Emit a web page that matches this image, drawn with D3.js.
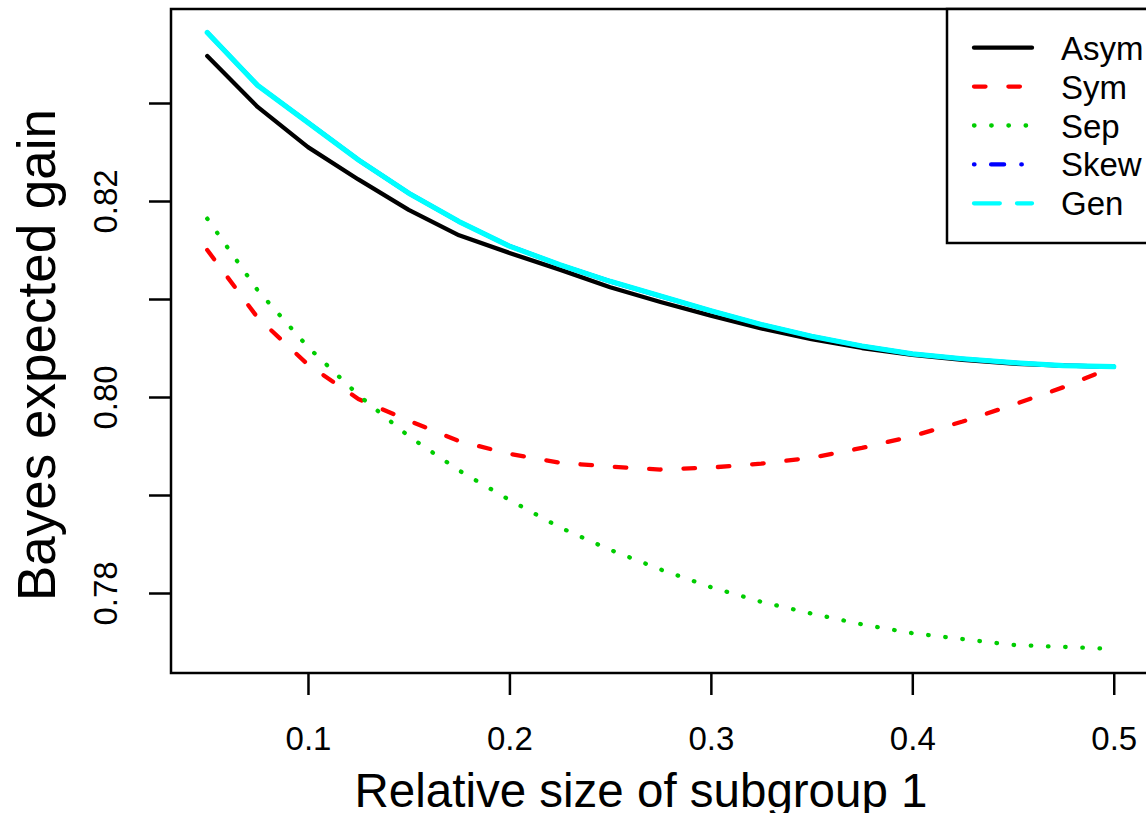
<!DOCTYPE html>
<html>
<head>
<meta charset="utf-8">
<script src="https://cdn.jsdelivr.net/npm/d3@7"></script>
<style>
  html, body { margin: 0; padding: 0; background: #fff; }
  svg { display: block; font-family: "Liberation Sans", Arial, sans-serif; }
</style>
</head>
<body>
<div id="chart"></div>
<script>
// relative size of subgroup 1 (x) and Bayes expected gain per model
const sizes = [0.05, 0.075, 0.1, 0.125, 0.15, 0.175, 0.2, 0.225, 0.25, 0.275,
               0.3, 0.325, 0.35, 0.375, 0.4, 0.425, 0.45, 0.475, 0.5];

const asym = [0.8348, 0.8296, 0.8255, 0.8222, 0.8191, 0.8165, 0.8147, 0.8130, 0.8112, 0.8097,
              0.8083, 0.8070, 0.8059, 0.8050, 0.8043, 0.8038, 0.8034, 0.8032, 0.8031];
const sym  = [0.8150, 0.8081, 0.8033, 0.7998, 0.7976, 0.7955, 0.7942, 0.7933, 0.7929, 0.7926,
              0.7928, 0.7932, 0.7938, 0.7948, 0.7960, 0.7975, 0.7992, 0.8010, 0.8031];
const sep  = [0.8182, 0.8109, 0.8051, 0.8002, 0.7960, 0.7925, 0.7895, 0.7867, 0.7844, 0.7824,
              0.7806, 0.7791, 0.7779, 0.7768, 0.7759, 0.7753, 0.7747, 0.7745, 0.7743];
const skew = [0.8372, 0.8318, 0.8280, 0.8242, 0.8208, 0.8179, 0.8154, 0.8135, 0.8118, 0.8103,
              0.8088, 0.8074, 0.8062, 0.8052, 0.8044, 0.8039, 0.8035, 0.8032, 0.8031];
const gen  = [0.8372, 0.8318, 0.8280, 0.8242, 0.8208, 0.8179, 0.8154, 0.8135, 0.8118, 0.8103,
              0.8088, 0.8074, 0.8062, 0.8052, 0.8044, 0.8039, 0.8035, 0.8032, 0.8031];

const xTicks = [0.1, 0.2, 0.3, 0.4, 0.5];
const yTicks = [0.78, 0.79, 0.80, 0.81, 0.82, 0.83];
const yLabelled = [0.78, 0.80, 0.82];   // R skips the in-between labels

// series: name, values, colour, dash pattern (R lty scaled by lwd, round caps)
// Gen covers Skew completely and shows as a continuous band in the plot
const serie = [
  { nome: 'Asym', valori: asym, colore: '#000000', dash: null, dashPlot: null, lw: 4.3 },
  { nome: 'Sym',  valori: sym,  colore: '#FF0000', dash: '11.5,22.9', dashPlot: '11.5,22.9', lw: 4.3 },
  { nome: 'Sep',  valori: sep,  colore: '#00CD00', dash: '0.5,16.7', dashPlot: '0.5,16.7', lw: 4.3 },
  { nome: 'Skew', valori: skew, colore: '#0000FF', dash: '0.5,16.6,13,17.2', dashPlot: null, lw: 4.3 },
  { nome: 'Gen',  valori: gen,  colore: '#00FFFF', dash: '25.8,17.2', dashPlot: null, lw: 5.2 }
];

const width = 1146, height = 813;
const box = { left: 171, right: 1150, top: 9, bottom: 673 };
const lwd = 4.3;

const svg = d3.select('#chart').append('svg')
    .attr('width', width)
    .attr('height', height);

const x = d3.scaleLinear().domain([0.032, 0.518]).range([box.left, box.right]);
const y = d3.scaleLinear().domain([0.771837, 0.839592]).range([box.bottom, box.top]);

// linee dei dati
const lineGen = d3.line()
    .x(d => x(d[0]))
    .y(d => y(d[1]));

serie.forEach(s => {
    svg.append('path')
        .datum(sizes.map((v, i) => [v, s.valori[i]]))
        .attr('d', lineGen)
        .attr('fill', 'none')
        .attr('stroke', s.colore)
        .attr('stroke-width', s.lw)
        .attr('stroke-linecap', 'round')
        .attr('stroke-linejoin', 'round')
        .attr('stroke-dasharray', s.dashPlot);
});

// cornice del grafico
svg.append('rect')
    .attr('x', box.left).attr('y', box.top)
    .attr('width', box.right - box.left)
    .attr('height', box.bottom - box.top)
    .attr('fill', 'none')
    .attr('stroke', '#000')
    .attr('stroke-width', 2.5);

// asse x
const xAxis = svg.append('g')
    .attr('transform', `translate(0,${box.bottom})`)
    .call(d3.axisBottom(x).tickValues(xTicks).tickSize(22).tickPadding(0).tickFormat(d3.format('.1f')));
xAxis.select('.domain').remove();
xAxis.selectAll('.tick line').attr('stroke', '#000').attr('stroke-width', 2.5);
xAxis.selectAll('.tick text')
    .attr('y', 77)
    .attr('dy', null)
    .attr('fill', '#000')
    .style('font-size', '33px');

// asse y
const yAxis = svg.append('g')
    .attr('transform', `translate(${box.left},0)`)
    .call(d3.axisLeft(y).tickValues(yTicks).tickSize(22)
        .tickFormat(d => yLabelled.some(v => Math.abs(v - d) < 1e-9) ? d3.format('.2f')(d) : ''));
yAxis.select('.domain').remove();
yAxis.selectAll('.tick line').attr('stroke', '#000').attr('stroke-width', 2.5);
yAxis.selectAll('.tick text')
    .attr('x', null)
    .attr('dy', null)
    .attr('text-anchor', 'middle')
    .attr('transform', 'translate(-54,0) rotate(-90)')
    .attr('fill', '#000')
    .style('font-size', '33px');

// titoli degli assi
svg.append('text')
    .attr('x', 641)
    .attr('y', 807)
    .attr('text-anchor', 'middle')
    .style('font-size', '47.5px')
    .text('Relative size of subgroup 1');

svg.append('text')
    .attr('transform', 'translate(55,355) rotate(-90)')
    .attr('text-anchor', 'middle')
    .style('font-size', '53px')
    .text('Bayes expected gain');

// legenda
const legenda = svg.append('g');
legenda.append('rect')
    .attr('x', 947).attr('y', box.top)
    .attr('width', 260).attr('height', 243 - box.top)
    .attr('fill', '#fff')
    .attr('stroke', '#000')
    .attr('stroke-width', 2.5);

serie.forEach((s, i) => {
    const cy = 47.7 + i * 38.9;
    legenda.append('line')
        .attr('x1', 974).attr('x2', 1032)
        .attr('y1', cy).attr('y2', cy)
        .attr('stroke', s.colore)
        .attr('stroke-width', lwd)
        .attr('stroke-linecap', 'round')
        .attr('stroke-dasharray', s.dash);
    legenda.append('text')
        .attr('x', 1061)
        .attr('y', cy + 12)
        .style('font-size', '33px')
        .text(s.nome);
});
</script>
</body>
</html>
